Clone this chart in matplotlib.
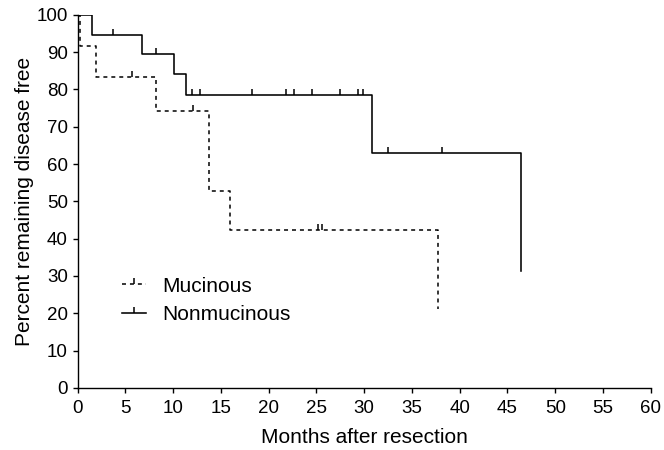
import matplotlib
matplotlib.use("Agg")
import matplotlib.pyplot as plt
from matplotlib.path import Path
from matplotlib.lines import Line2D

plt.rcParams['font.family'] = ['Liberation Sans', 'DejaVu Sans']

# Step curves (time of change, level after change)
non_times = [0, 1.5, 6.7, 10.1, 11.3, 30.8, 46.4]
non_surv = [100, 94.7, 89.5, 84.2, 78.6, 62.9, 31.4]
non_censor = [3.7, 8.2, 12.0, 12.8, 18.2, 21.8, 22.6, 24.5, 27.5, 29.4, 29.9, 32.5, 38.1]

muc_times = [0, 0.2, 1.9, 8.2, 13.8, 15.9, 37.7]
muc_surv = [100, 91.7, 83.3, 74.1, 52.9, 42.3, 21.2]
muc_censor = [5.7, 12.1, 25.2, 25.6]


def level_at(t, times, surv):
    v = surv[0]
    for ti, si in zip(times, surv):
        if t >= ti:
            v = si
    return v


fig = plt.figure(figsize=(6.64, 4.5), dpi=100)
ax = fig.add_axes([0.117, 0.138, 0.863, 0.829])

tick_marker = Path([(0, 0), (0, 1)], [Path.MOVETO, Path.LINETO])
dash = (0, (2.6, 2.6))

ax.step(non_times, non_surv, where='post', color='black', lw=1.15)
ax.step(muc_times, muc_surv, where='post', color='black', lw=1.1,
        linestyle=dash)

ax.plot(non_censor, [level_at(t, non_times, non_surv) for t in non_censor],
        linestyle='none', marker=tick_marker, markersize=8.5,
        markeredgecolor='black', markeredgewidth=1.1)
ax.plot(muc_censor, [level_at(t, muc_times, muc_surv) for t in muc_censor],
        linestyle='none', marker=tick_marker, markersize=8.5,
        markeredgecolor='black', markeredgewidth=1.1)

ax.set_xlim(0, 60)
ax.set_ylim(0, 100)
ax.set_xticks(range(0, 61, 5))
ax.set_yticks(range(0, 101, 10))
ax.spines['top'].set_visible(False)
ax.spines['right'].set_visible(False)
ax.spines['left'].set_linewidth(1.0)
ax.spines['bottom'].set_linewidth(1.0)
ax.tick_params(direction='out', length=3.5, width=1.0, labelsize=13.5, pad=3.5)
ax.tick_params(axis='x', pad=5)
ax.set_xlabel('Months after resection', fontsize=15, labelpad=8)
ax.set_ylabel('Percent remaining disease free', fontsize=15, labelpad=2)

h1 = Line2D([0], [0], color='black', lw=1.1, linestyle=dash,
            marker=tick_marker, markersize=8.5, markeredgecolor='black',
            markeredgewidth=1.1)
h2 = Line2D([0], [0], color='black', lw=1.15,
            marker=tick_marker, markersize=8.5, markeredgecolor='black',
            markeredgewidth=1.1)
ax.legend([h1, h2], ['Mucinous', 'Nonmucinous'], loc='upper left',
          bbox_to_anchor=(0.067, 0.315), frameon=False, fontsize=15,
          numpoints=1, handlelength=1.15, handletextpad=0.75,
          labelspacing=0.45, borderaxespad=0.0, borderpad=0.3)

fig.savefig('out.png', dpi=100)
